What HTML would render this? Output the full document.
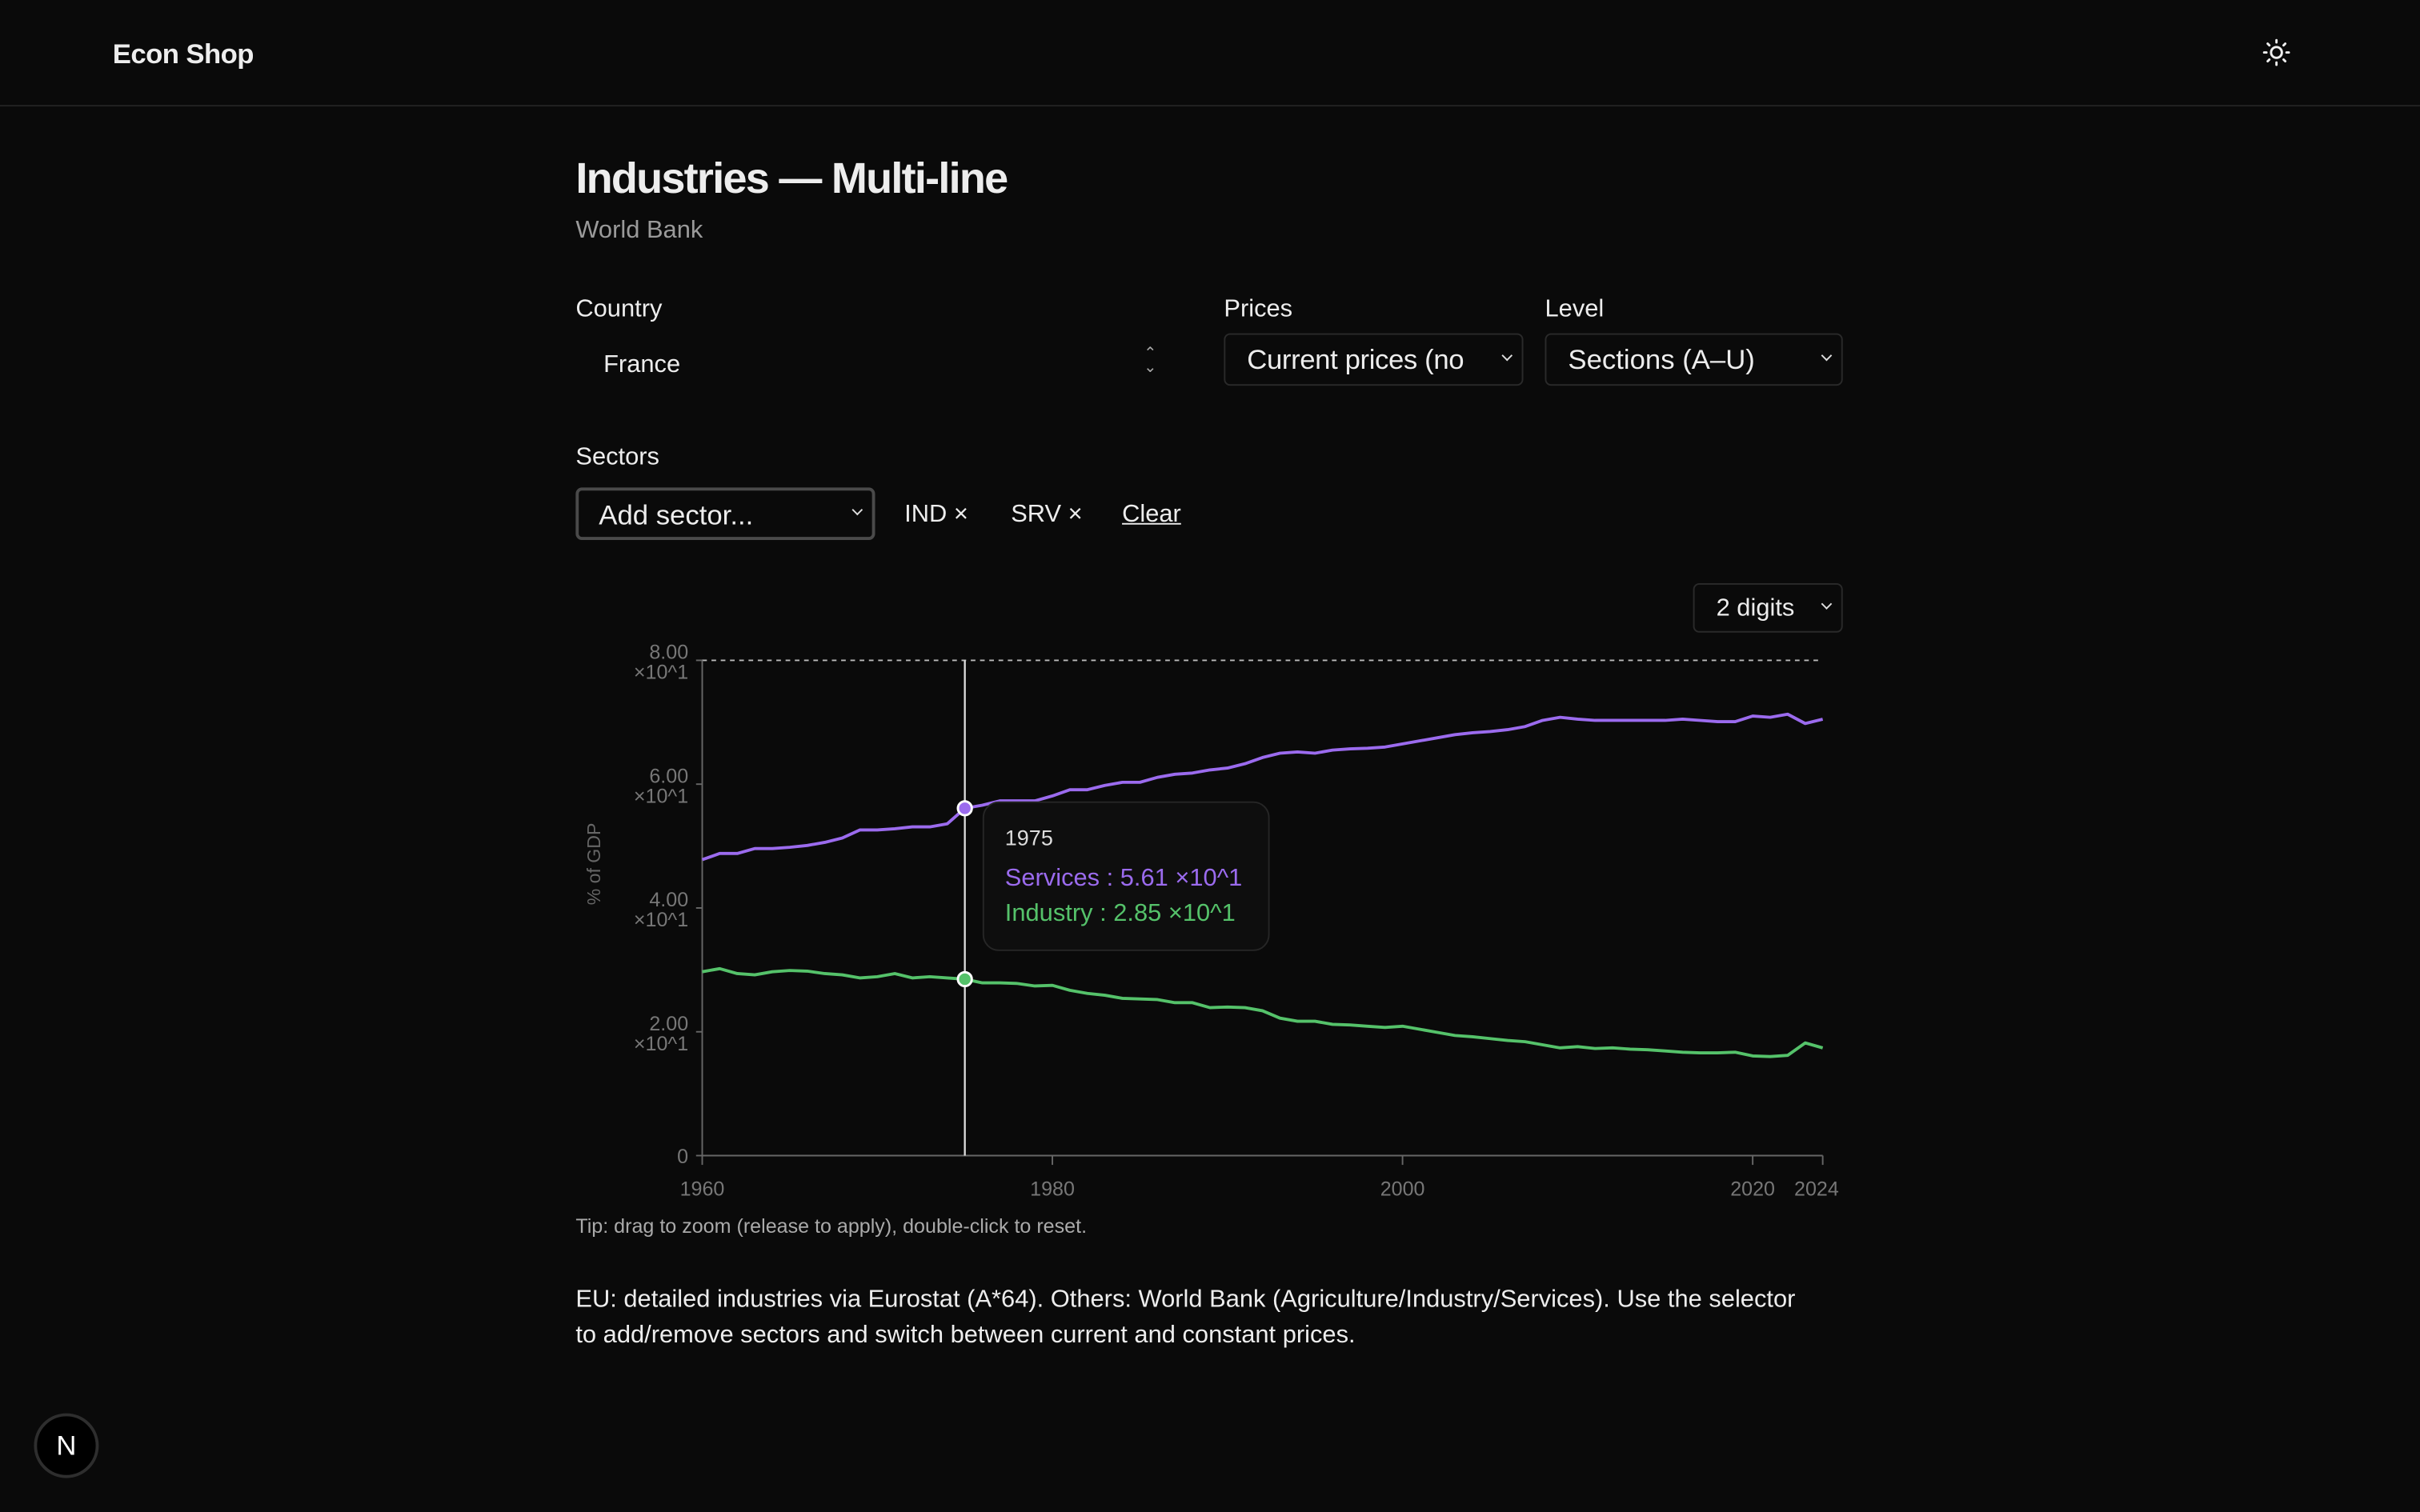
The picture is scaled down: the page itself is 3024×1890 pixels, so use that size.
<!DOCTYPE html>
<html><head><meta charset="utf-8">
<style>
html,body{margin:0;padding:0;background:#0a0a0a;width:3024px;height:1890px;overflow:hidden}
#root{position:absolute;left:0;top:0;width:1568px;height:980px;transform:scale(1.92857);transform-origin:0 0;font-family:"Liberation Sans",sans-serif;color:#ededed}
.a{position:absolute;white-space:nowrap}
.box{position:absolute;border:1px solid #2a2a2a;border-radius:4px;background:#0a0a0a;box-sizing:border-box}
.chev{position:absolute;width:6px;height:6px;border-right:1.3px solid #ddd;border-bottom:1.3px solid #ddd;transform:rotate(45deg)}
</style></head><body>
<div id="root">
<div class="a" style="left:73px;top:25px;font-size:18px;font-weight:bold;letter-spacing:-0.3px">Econ Shop</div>
<div class="a" style="left:0;top:68px;width:1568px;height:1px;background:#222"></div>
<svg class="a" style="left:1465px;top:24px" width="20" height="20" viewBox="0 0 20 20"><circle cx="10" cy="10" r="3.5" fill="none" stroke="#eee" stroke-width="1.5"/><g stroke="#eee" stroke-width="1.5" stroke-linecap="round"><line x1="10" y1="2" x2="10" y2="3.5"/><line x1="10" y1="16.5" x2="10" y2="18"/><line x1="2" y1="10" x2="3.5" y2="10"/><line x1="16.5" y1="10" x2="18" y2="10"/><line x1="4.3" y1="4.3" x2="5.4" y2="5.4"/><line x1="14.6" y1="14.6" x2="15.7" y2="15.7"/><line x1="4.3" y1="15.7" x2="5.4" y2="14.6"/><line x1="14.6" y1="5.4" x2="15.7" y2="4.3"/></g></svg>

<div class="a" style="left:373px;top:100px;font-size:28px;font-weight:bold;letter-spacing:-0.9px">Industries — Multi-line</div>
<div class="a" style="left:373px;top:141px;font-size:16px;color:#9a9a9a">World Bank</div>

<div class="a" style="left:373px;top:192px;font-size:16px">Country</div>
<div class="a" style="left:373px;top:218px;width:390px;height:36px">
 <span class="a" style="left:18px;top:10px;font-size:16px">France</span>
 <span class="a" style="left:368px;top:7px;font-size:10px;color:#aaa;line-height:9px">⌃<br>⌄</span>
</div>
<div class="a" style="left:793px;top:192px;font-size:16px">Prices</div>
<div class="box" style="left:793px;top:216px;width:194px;height:34px">
 <span class="a" style="left:14px;top:6px;font-size:18px;letter-spacing:-0.2px">Current prices (no</span><span class="chev" style="left:180px;top:11px;width:4px;height:4px"></span></div>
<div class="a" style="left:1001px;top:192px;font-size:16px">Level</div>
<div class="box" style="left:1001px;top:216px;width:193px;height:34px">
 <span class="a" style="left:14px;top:6px;font-size:18px">Sections (A–U)</span><span class="chev" style="left:179px;top:11px;width:4px;height:4px"></span></div>

<div class="a" style="left:373px;top:288px;font-size:16px">Sectors</div>
<div class="box" style="left:373px;top:316px;width:194px;height:34px;border:2px solid #4a4a4a">
 <span class="a" style="left:13px;top:6px;font-size:18px">Add sector...</span><span class="chev" style="left:178px;top:10px;width:4px;height:4px"></span></div>
<div class="a" style="left:586px;top:325px;font-size:16px">IND ×</div>
<div class="a" style="left:655px;top:325px;font-size:16px">SRV ×</div>
<div class="a" style="left:727px;top:325px;font-size:16px;text-decoration:underline">Clear</div>

<div class="box" style="left:1097px;top:378px;width:97px;height:32px">
 <span class="a" style="left:14px;top:7px;font-size:16px">2 digits</span><span class="chev" style="left:83px;top:10px;width:4px;height:4px"></span></div>

<svg id="chart" class="a" style="left:0;top:0" width="1568" height="980"></svg>

<div class="a" style="left:373px;top:787px;font-size:13px;color:#aaa">Tip: drag to zoom (release to apply), double-click to reset.</div>
<div class="a" style="left:373px;top:831px;font-size:16px;line-height:23px;color:#ededed;white-space:normal;width:900px">EU: detailed industries via Eurostat (A*64). Others: World Bank (Agriculture/Industry/Services). Use the selector<br>to add/remove sectors and switch between current and constant prices.</div>

<div class="a" style="left:22px;top:916px;width:38px;height:38px;border-radius:50%;background:#000;border:2px solid #2e2e2e;color:#fff;font-size:18px;text-align:center;line-height:38px">N</div>
</div>
<script>
const years=[];for(let y=1960;y<=2024;y++)years.push(y);
const services=[47.8,48.8,48.8,49.6,49.6,49.8,50.1,50.6,51.3,52.6,52.6,52.8,53.1,53.1,53.6,56.1,56.6,57.3,57.3,57.3,58.1,59.1,59.1,59.8,60.3,60.3,61.1,61.6,61.8,62.3,62.6,63.3,64.3,65.0,65.2,65.0,65.5,65.7,65.8,66.0,66.5,67.0,67.5,68.0,68.3,68.5,68.8,69.3,70.3,70.8,70.5,70.3,70.3,70.3,70.3,70.3,70.5,70.3,70.1,70.1,71.0,70.8,71.3,69.8,70.5];
const industry=[29.7,30.2,29.4,29.2,29.7,29.9,29.8,29.4,29.2,28.7,28.9,29.4,28.7,28.9,28.7,28.5,27.9,27.9,27.8,27.4,27.5,26.7,26.2,25.9,25.4,25.3,25.2,24.7,24.7,23.9,24.0,23.9,23.4,22.2,21.7,21.7,21.2,21.1,20.9,20.7,20.9,20.4,19.9,19.4,19.2,18.9,18.6,18.4,17.9,17.4,17.6,17.3,17.4,17.2,17.1,16.9,16.7,16.6,16.6,16.7,16.1,16.0,16.2,18.2,17.4];
const yTicks=[0,20,40,60,80];
const yTickMain=["0","2.00","4.00","6.00","8.00"];
const xTicks=[1960,1980,2000,2020,2024];
const hoverYear=1975;
const NS="http://www.w3.org/2000/svg";
const svg=document.getElementById('chart');
const X0=455,X1=1181,Y0=749,Y1=428;
const xs=y=>X0+(y-1960)/(2024-1960)*(X1-X0);
const ys=v=>Y0-v/80*(Y0-Y1);
function mk(t,a){const e=document.createElementNS(NS,t);for(const k in a)e.setAttribute(k,a[k]);svg.appendChild(e);return e;}
let e;
e=mk('line',{x1:X0,y1:ys(80),x2:1178,y2:ys(80),stroke:'#bbb','stroke-dasharray':'3 3','stroke-width':1});


e=mk('line',{x1:X0,y1:Y1,x2:X0,y2:Y0,stroke:'#666'});


e=mk('line',{x1:X0,y1:Y0,x2:X1,y2:Y0,stroke:'#666'});


yTicks.forEach((v,i)=>{
 const y=ys(v);
 e=mk('line',{x1:X0-4,y1:y,x2:X0,y2:y,stroke:'#666'});
 
 
 if(v===0){e=mk('text',{x:446,y:y+5,'text-anchor':'end',fill:'#777','font-size':13,'font-family':'Liberation Sans'});e.textContent='0';}
 else{
  e=mk('text',{x:446,y:y-1,'text-anchor':'end',fill:'#777','font-size':13,'font-family':'Liberation Sans'});e.textContent=yTickMain[i];
  
  
  e=mk('text',{x:446,y:y+12,'text-anchor':'end',fill:'#777','font-size':13,'font-family':'Liberation Sans'});e.textContent='×10^1';
 }
 
 
});
xTicks.forEach(t=>{
 const x=xs(t);
 e=mk('line',{x1:x,y1:Y0,x2:x,y2:Y0+6,stroke:'#666'});
 
 
 e=mk('text',{x:t===2024?x-4:x,y:775,'text-anchor':'middle',fill:'#777','font-size':13,'font-family':'Liberation Sans'});e.textContent=t;
 
 
});
e=mk('text',{x:0,y:0,transform:'translate(389,560) rotate(-90)','text-anchor':'middle',fill:'#666','font-size':12,'font-family':'Liberation Sans'});e.textContent='% of GDP';


function line(arr,col,name){
 const d=arr.map((v,i)=>(i?'L':'M')+xs(years[i]).toFixed(2)+' '+ys(v).toFixed(2)).join(' ');
 const p=mk('path',{d:d,fill:'none',stroke:col,'stroke-width':2,'stroke-linejoin':'round'});
 
 
}
line(services,'#9b6bee','services-line');
line(industry,'#55c26a','industry-line');
const hi=years.indexOf(hoverYear),hx=xs(hoverYear);
e=mk('line',{x1:hx,y1:Y1,x2:hx,y2:Y0,stroke:'#ddd','stroke-width':1.2});


e=mk('circle',{cx:hx,cy:ys(services[hi]),r:4.5,fill:'#9b6bee',stroke:'#fff','stroke-width':1.5});


e=mk('circle',{cx:hx,cy:ys(industry[hi]),r:4.5,fill:'#55c26a',stroke:'#fff','stroke-width':1.5});


const tx=hx+12,ty=ys(services[hi])-4;
e=mk('rect',{x:tx,y:ty,width:185,height:96,rx:10,fill:'#0e0e0e',stroke:'#262626'});


e=mk('text',{x:tx+14,y:ty+28,fill:'#ddd','font-size':14,'font-family':'Liberation Sans'});e.textContent=hoverYear;


e=mk('text',{x:tx+14,y:ty+54,fill:'#9b6bee','font-size':16,'font-family':'Liberation Sans'});e.textContent='Services : '+(services[hi]/10).toFixed(2)+' ×10^1';


e=mk('text',{x:tx+14,y:ty+77,fill:'#55c26a','font-size':16,'font-family':'Liberation Sans'});e.textContent='Industry : '+(industry[hi]/10).toFixed(2)+' ×10^1';


</script>
</body></html>
